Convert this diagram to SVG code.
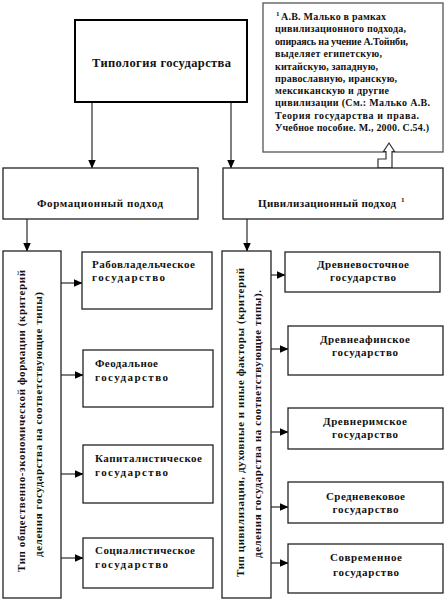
<svg xmlns="http://www.w3.org/2000/svg" width="446" height="600" viewBox="0 0 446 600">
<style>
text{font-family:"Liberation Serif","Times New Roman",serif;font-weight:bold;fill:#111;}
.box{fill:#fff;stroke:#222;stroke-width:1.3;}
.main{fill:#fff;stroke:#000;stroke-width:2;}
.note{fill:#fff;stroke:#555;stroke-width:1.3;}
.t11{font-size:11px;}
.t10{font-size:10px;}
.t12{font-size:12.5px;}
.c{text-anchor:middle;}
.con{fill:none;stroke:#3a3a3a;stroke-width:1.3;}
</style>
<defs>
<marker id="ah" markerUnits="userSpaceOnUse" markerWidth="9" markerHeight="9" viewBox="0 0 9 9" refX="8.5" refY="4.5" orient="auto">
<path d="M0,0.5 L9,4.5 L0,8.5 Z" fill="#000"/>
</marker>
</defs>
<rect width="446" height="600" fill="#fff"/>

<g id="connectors">
<path class="con" d="M92,102 V168" marker-end="url(#ah)"/>
<path class="con" d="M231,102 V168" marker-end="url(#ah)"/>
<path class="con" d="M27,219 V251" marker-end="url(#ah)"/>
<path class="con" d="M247,219 V251" marker-end="url(#ah)"/>
<path class="con" d="M61,283 H82" marker-end="url(#ah)"/>
<path class="con" d="M61,375 H83" marker-end="url(#ah)"/>
<path class="con" d="M61,474 H83" marker-end="url(#ah)"/>
<path class="con" d="M61,558 H83" marker-end="url(#ah)"/>
<path class="con" d="M271,275 H285" marker-end="url(#ah)"/>
<path class="con" d="M271,349 H288" marker-end="url(#ah)"/>
<path class="con" d="M271,432 H288" marker-end="url(#ah)"/>
<path class="con" d="M271,507 H288" marker-end="url(#ah)"/>
<path class="con" d="M271,563 H288" marker-end="url(#ah)"/>
</g>

<g id="n-main">
<rect class="main" x="75" y="20" width="172" height="82"/>
<text class="t12" x="92" y="67" textLength="139" lengthAdjust="spacing">Типология государства</text>
</g>

<g id="n-note">
<rect class="note" x="263" y="3" width="180" height="149"/>
<text class="t10"><tspan x="276" y="16" font-size="7">1</tspan><tspan x="281" y="20" textLength="105" lengthAdjust="spacing">А.В. Малько в рамках</tspan></text>
<text class="t10" x="275" y="32" textLength="131" lengthAdjust="spacing">цивилизационного подхода,</text>
<text class="t10" x="275" y="45" textLength="133" lengthAdjust="spacing">опираясь на учение  А.Тойнби,</text>
<text class="t10" x="275" y="57" textLength="107" lengthAdjust="spacing">выделяет египетскую,</text>
<text class="t10" x="275" y="70" textLength="103" lengthAdjust="spacing">китайскую, западную,</text>
<text class="t10" x="275" y="82" textLength="122" lengthAdjust="spacing">православную, иранскую,</text>
<text class="t10" x="275" y="94" textLength="114" lengthAdjust="spacing">мексиканскую и другие</text>
<text class="t10" x="275" y="106" textLength="155" lengthAdjust="spacing">цивилизации (См.: Малько А.В.</text>
<text class="t10" x="275" y="119" textLength="144" lengthAdjust="spacing">Теория государства и права.</text>
<text class="t10" x="275" y="131" textLength="154" lengthAdjust="spacing">Учебное пособие. М., 2000. С.54.)</text>
</g>

<g id="n-hollow-arrow">
<polygon points="389,143 394.5,151.5 392,151.5 392,168 378,168 378,159 386,159 386,151.5 383.5,151.5" fill="#fff" stroke="#333" stroke-width="1.2"/>
</g>

<g id="n-form">
<rect class="box" x="3" y="168" width="195" height="51"/>
<text class="t11" x="37" y="207" textLength="126" lengthAdjust="spacing">Формационный подход</text>
</g>

<g id="n-civ">
<rect class="box" x="223" y="168" width="220" height="51"/>
<text class="t11" x="258" y="207" textLength="138" lengthAdjust="spacing">Цивилизационный подход</text>
<text x="401" y="202" font-size="7">1</text>
</g>

<g id="n-formtype">
<rect class="box" x="3" y="251" width="58" height="347"/>
<text class="t11 c" transform="translate(25,421) rotate(-90)" textLength="302" lengthAdjust="spacing">Тип общественно-экономической формации (критерий</text>
<text class="t11 c" transform="translate(41.5,424.5) rotate(-90)" textLength="265" lengthAdjust="spacing">деления государства на соответствующие типы)</text>
</g>

<g id="n-slave">
<rect class="box" x="82" y="252" width="130" height="57"/>
<text class="t11" x="92" y="268" textLength="103" lengthAdjust="spacing">Рабовладельческое</text>
<text class="t11" x="92" y="281" textLength="73" lengthAdjust="spacing">государство</text>
</g>
<g id="n-feud">
<rect class="box" x="83" y="350" width="130" height="57"/>
<text class="t11" x="95" y="367" textLength="63" lengthAdjust="spacing">Феодальное</text>
<text class="t11" x="95" y="381" textLength="73" lengthAdjust="spacing">государство</text>
</g>
<g id="n-cap">
<rect class="box" x="83" y="445" width="130" height="58"/>
<text class="t11" x="95" y="462" textLength="107" lengthAdjust="spacing">Капиталистическое</text>
<text class="t11" x="95" y="476" textLength="73" lengthAdjust="spacing">государство</text>
</g>
<g id="n-soc">
<rect class="box" x="83" y="538" width="130" height="50"/>
<text class="t11" x="95" y="554" textLength="100" lengthAdjust="spacing">Социалистическое</text>
<text class="t11" x="95" y="568" textLength="73" lengthAdjust="spacing">государство</text>
</g>

<g id="n-civtype">
<rect class="box" x="222" y="251" width="49" height="347"/>
<text class="t11 c" transform="translate(244,422.5) rotate(-90)" textLength="309" lengthAdjust="spacing">Тип цивилизации, духовные и иные факторы (критерий</text>
<text class="t11 c" transform="translate(261,424) rotate(-90)" textLength="268" lengthAdjust="spacing">деления государства на соответствующие типы).</text>
</g>

<g id="n-east">
<rect class="box" x="285" y="252" width="155" height="40"/>
<text class="t11 c" x="363" y="268" textLength="92" lengthAdjust="spacing">Древневосточное</text>
<text class="t11 c" x="363" y="281" textLength="66" lengthAdjust="spacing">государство</text>
</g>
<g id="n-athens">
<rect class="box" x="288" y="326" width="155" height="49"/>
<text class="t11 c" x="365" y="343" textLength="90" lengthAdjust="spacing">Древнеафинское</text>
<text class="t11 c" x="365" y="356" textLength="66" lengthAdjust="spacing">государство</text>
</g>
<g id="n-rome">
<rect class="box" x="288" y="408" width="155" height="41"/>
<text class="t11 c" x="365" y="425" textLength="84" lengthAdjust="spacing">Древнеримское</text>
<text class="t11 c" x="365" y="438" textLength="66" lengthAdjust="spacing">государство</text>
</g>
<g id="n-medieval">
<rect class="box" x="288" y="482" width="155" height="41"/>
<text class="t11 c" x="365.5" y="500" textLength="79" lengthAdjust="spacing">Средневековое</text>
<text class="t11 c" x="365.5" y="513" textLength="66" lengthAdjust="spacing">государство</text>
</g>
<g id="n-modern">
<rect class="box" x="288" y="544" width="155" height="49"/>
<text class="t11 c" x="366" y="561" textLength="72" lengthAdjust="spacing">Современное</text>
<text class="t11 c" x="366" y="576" textLength="66" lengthAdjust="spacing">государство</text>
</g>
</svg>
